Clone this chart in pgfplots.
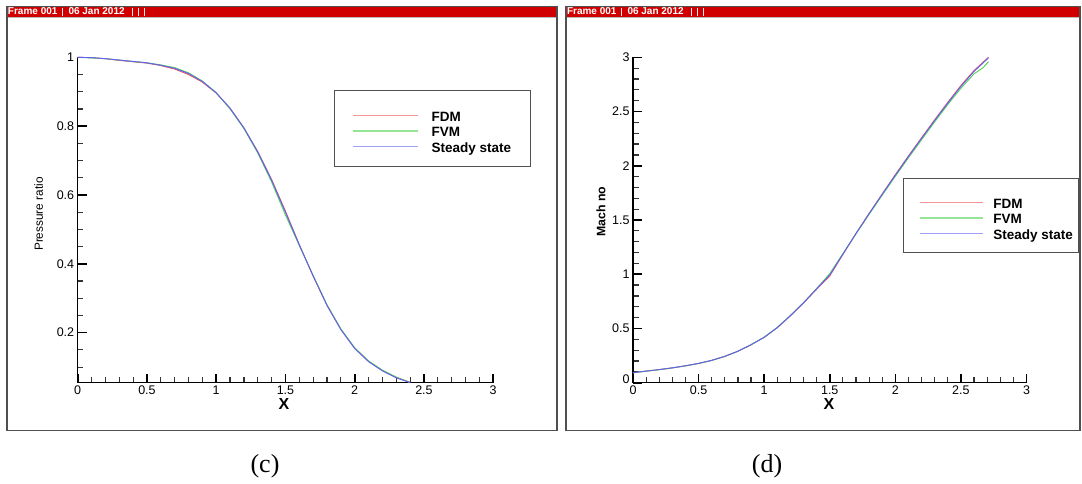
\documentclass[border=0pt]{standalone}
\usepackage{pgfplots}
\pgfplotsset{compat=1.18}
\usepackage{fontspec}
\setmainfont{Liberation Sans}
\newfontfamily\capfont{Liberation Serif}

\definecolor{barred}{RGB}{208,0,0}
\definecolor{framegray}{RGB}{80,80,80}
\definecolor{fdm}{RGB}{238,80,80}
\definecolor{fvm}{RGB}{80,210,80}
\definecolor{steady}{RGB}{95,95,248}

% Tecplot-style frame: title bar, border
\newcommand{\panel}[2]{%
  \fill[barred] (#1,476.3) rectangle (#2,465.7);
  \draw[gray!55, line width=0.6pt] (#1,465.3) -- (#2,465.3);
  \draw[framegray, line width=1.2pt] (#2,476.3) -- (#1,476.3) -- (#1,52.5) -- (#2,52.5) -- cycle;
  \node[anchor=base west, inner sep=0pt, text=white, font=\bfseries\fontsize{10}{10}\selectfont] at (#1+0.8,468) {Frame 001};
  \node[anchor=base west, inner sep=0pt, text=white, font=\bfseries\fontsize{10}{10}\selectfont] at (#1+61.3,468) {06 Jan 2012};
  \foreach \s in {55.7,125.3,131.3,137} {\draw[white!85!gray, line width=0.6pt] (#1+\s,475) -- (#1+\s,467);}
}

\pgfplotsset{
  tecaxis/.style={
    scale only axis, anchor=south west, clip=false,
    axis lines=left, axis line style={-, line width=1.5pt, black},
    xmin=0, xmax=3, xtick={0,0.5,1,1.5,2,2.5,3}, minor x tick num=4,
    /pgf/number format/assume math mode=true,
    ticklabel style={font=\fontsize{12.5}{12.5}\selectfont},
    xlabel style={font=\bfseries\fontsize{16}{16}\selectfont},
    legend cell align=left,
    every axis plot/.append style={line width=0.9pt},
  },
  tecticks/.style={
    xtick align=inside, ytick align=inside,
    tickwidth=9pt, subtickwidth=5.5pt,
    major tick style={line width=1.6pt, black},
    minor tick style={line width=1.2pt, black!80},
  },
}

\begin{document}
\begin{tikzpicture}[x=1pt,y=1pt]
\fill[white] (0,0) rectangle (1082,483);
\panel{7}{557}
\panel{566}{1080}

% (c) pressure ratio along the nozzle
\begin{axis}[tecaxis,
  at={(77.7pt,100.3pt)}, width=415.5pt, height=325.4pt,
  ymin=0.0547, ymax=1, ytick={0.2,0.4,0.6,0.8,1},
  minor ytick={0.1,0.15,0.25,0.3,0.35,0.45,0.5,0.55,0.65,0.7,0.75,0.85,0.9,0.95},
  tecticks,
  xlabel={X}, ylabel={Pressure ratio},
  xlabel style={at={(axis description cs:0.4965,-0.0655)}, anchor=center},
  ylabel style={at={(axis description cs:-0.094,0.518)}, anchor=center, font=\fontsize{11.8}{11.8}\selectfont},
  legend style={at={(axis description cs:0.660,0.835)}, anchor=north west, draw=none, fill=none,
    inner sep=0pt, row sep=0pt, font=\bfseries\fontsize{13.5}{13.5}\selectfont,
    nodes={inner sep=0pt, text height=10pt, text depth=5.5pt},
    /tikz/every odd column/.append style={column sep=13pt}},
  legend image code/.code={\draw[#1, line width=1.5pt, opacity=0.6] (0pt,3.5pt) -- (65pt,3.5pt);},
]
\addplot[fdm] coordinates {
(0.00,1.000) (0.10,0.999) (0.20,0.996) (0.30,0.991) (0.40,0.987) (0.50,0.983)
(0.60,0.976) (0.70,0.966) (0.80,0.950) (0.90,0.928) (1.00,0.896) (1.10,0.852)
(1.20,0.795) (1.30,0.726) (1.40,0.645) (1.50,0.553) (1.60,0.456) (1.70,0.364)
(1.80,0.280) (1.90,0.210) (2.00,0.155) (2.10,0.117) (2.20,0.090) (2.30,0.070) (2.40,0.056)};
\addlegendentry{FDM}
\addplot[fvm] coordinates {
(0.00,1.000) (0.10,0.998) (0.20,0.996) (0.30,0.992) (0.40,0.988) (0.50,0.984)
(0.60,0.978) (0.70,0.970) (0.80,0.955) (0.90,0.931) (1.00,0.897) (1.10,0.850)
(1.20,0.793) (1.30,0.722) (1.40,0.638) (1.50,0.542) (1.60,0.453) (1.70,0.366)
(1.80,0.281) (1.90,0.211) (2.00,0.156) (2.10,0.118) (2.20,0.091) (2.30,0.071) (2.40,0.055)};
\addlegendentry{FVM}
\addplot[steady] coordinates {
(0.00,1.000) (0.10,0.999) (0.20,0.996) (0.30,0.992) (0.40,0.988) (0.50,0.984)
(0.60,0.977) (0.70,0.968) (0.80,0.953) (0.90,0.930) (1.00,0.897) (1.10,0.852)
(1.20,0.795) (1.30,0.725) (1.40,0.643) (1.50,0.550) (1.60,0.455) (1.70,0.365)
(1.80,0.279) (1.90,0.209) (2.00,0.154) (2.10,0.116) (2.20,0.089) (2.30,0.069) (2.40,0.055)};
\addlegendentry{Steady state}
\end{axis}
\draw[framegray, line width=1pt] (334,392.3) rectangle (530,316.3);

% (d) Mach number along the nozzle
\begin{axis}[tecaxis,
  at={(633pt,100.3pt)}, width=393.5pt, height=325.4pt,
  ymin=0, ymax=3, ytick={0,0.5,1,1.5,2,2.5,3}, minor y tick num=4,
  yticklabels={\raisebox{8pt}{0},0.5,1,1.5,2,2.5,3},
  tecticks,
  xlabel={X}, ylabel={Mach no},
  xlabel style={at={(axis description cs:0.498,-0.0655)}, anchor=center},
  ylabel style={at={(axis description cs:-0.0813,0.525)}, anchor=center, font=\bfseries\fontsize{12.3}{12.3}\selectfont},
  legend style={at={(axis description cs:0.7268,0.5667)}, anchor=north west, draw=none, fill=none,
    inner sep=0pt, row sep=0pt, font=\bfseries\fontsize{13.5}{13.5}\selectfont,
    nodes={inner sep=0pt, text height=10pt, text depth=5.4pt},
    /tikz/every odd column/.append style={column sep=9.7pt}},
  legend image code/.code={\draw[#1, line width=1.5pt, opacity=0.6] (0pt,3.5pt) -- (63pt,3.5pt);},
]
\addplot[fdm] coordinates {
(0.00,0.092) (0.10,0.107) (0.20,0.121) (0.30,0.137) (0.40,0.156) (0.50,0.178)
(0.60,0.206) (0.70,0.243) (0.80,0.290) (0.90,0.350) (1.00,0.418) (1.10,0.507)
(1.20,0.617) (1.30,0.735) (1.40,0.862) (1.50,0.985) (1.60,1.182) (1.70,1.376)
(1.80,1.561) (1.90,1.740) (2.00,1.918) (2.10,2.090) (2.20,2.258) (2.30,2.424)
(2.40,2.585) (2.50,2.740) (2.60,2.878) (2.71,3.000)};
\addlegendentry{FDM}
\addplot[fvm] coordinates {
(0.00,0.091) (0.10,0.106) (0.20,0.120) (0.30,0.136) (0.40,0.155) (0.50,0.177)
(0.60,0.205) (0.70,0.242) (0.80,0.290) (0.90,0.351) (1.00,0.420) (1.10,0.510)
(1.20,0.620) (1.30,0.738) (1.40,0.868) (1.50,1.005) (1.60,1.190) (1.70,1.372)
(1.80,1.552) (1.90,1.729) (2.00,1.903) (2.10,2.074) (2.20,2.240) (2.30,2.405)
(2.40,2.565) (2.50,2.715) (2.60,2.848) (2.67,2.905) (2.71,2.960)};
\addlegendentry{FVM}
\addplot[steady] coordinates {
(0.00,0.092) (0.10,0.107) (0.20,0.121) (0.30,0.137) (0.40,0.156) (0.50,0.178)
(0.60,0.206) (0.70,0.243) (0.80,0.290) (0.90,0.350) (1.00,0.418) (1.10,0.508)
(1.20,0.618) (1.30,0.736) (1.40,0.866) (1.50,0.993) (1.60,1.185) (1.70,1.375)
(1.80,1.558) (1.90,1.737) (2.00,1.913) (2.10,2.085) (2.20,2.253) (2.30,2.418)
(2.40,2.578) (2.50,2.732) (2.60,2.870) (2.71,2.995)};
\addlegendentry{Steady state}
\end{axis}
\draw[framegray, line width=1pt] (903.3,304.7) rectangle (1078,230.3);

% sub-figure captions
\node[anchor=base, inner sep=0pt, font=\capfont\fontsize{26}{26}\selectfont] at (265,11) {(c)};
\node[anchor=base, inner sep=0pt, font=\capfont\fontsize{26}{26}\selectfont] at (767,11) {(d)};
\end{tikzpicture}
\end{document}
